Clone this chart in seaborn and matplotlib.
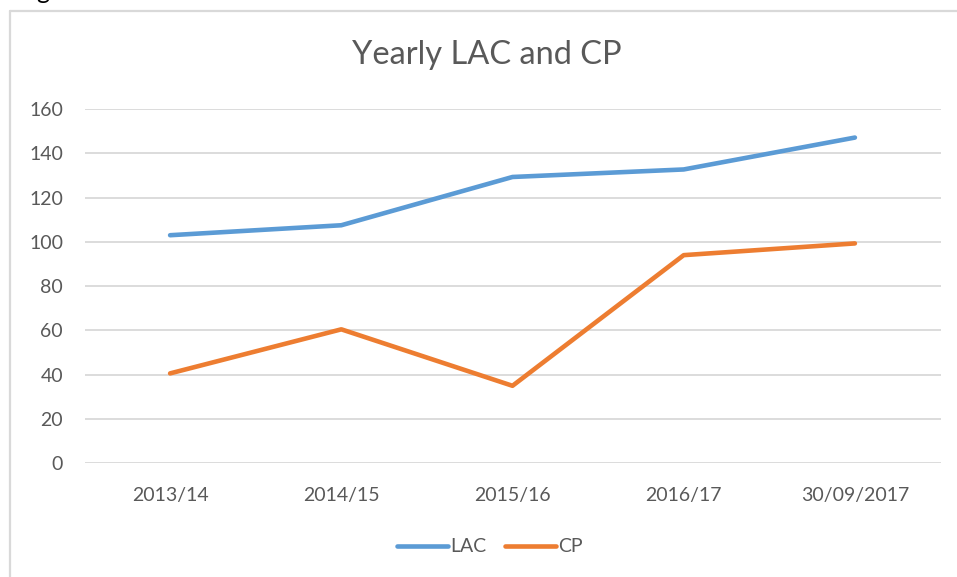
import matplotlib
matplotlib.use('Agg')
import matplotlib.pyplot as plt
from matplotlib.lines import Line2D
import pandas as pd
import seaborn as sns

# values
years = ['2013/14', '2014/15', '2015/16', '2016/17', '30/09/2017']
lac = [103, 107.5, 129.3, 132.7, 147.1]
cp = [40.6, 60.5, 35.0, 94.0, 99.3]
yticks = [0, 20, 40, 60, 80, 100, 120, 140, 160]

df = pd.DataFrame({
    'year': years * 2,
    'value': lac + cp,
    'series': ['LAC'] * len(years) + ['CP'] * len(years),
})

sns.set_style('white')
plt.rcParams['font.family'] = ['Lato', 'DejaVu Sans']
txt = '#595959'
grid = '#d9d9d9'

W, H = 957, 577
fig = plt.figure(figsize=(W / 100, H / 100), dpi=100)
ax = fig.add_axes([84.5 / W, 1 - 463.3 / H, 856 / W, 354.3 / H])

sns.lineplot(data=df, x='year', y='value', hue='series', sort=False,
             palette={'LAC': '#5b9bd5', 'CP': '#ed7d31'}, linewidth=3.3,
             ax=ax, legend=False)

ax.set_xlim(-0.5, len(years) - 0.5)
ax.set_ylim(0, 160)
ax.set_yticks(yticks)
ax.set_xlabel('')
ax.set_ylabel('')
ax.grid(axis='y', color=grid, linewidth=1.3)
ax.set_axisbelow(True)
for s in ax.spines.values():
    s.set_visible(False)
ax.tick_params(axis='both', length=0, labelsize=14, labelcolor=txt)
ax.tick_params(axis='y', pad=15.5)
ax.tick_params(axis='x', pad=17)

fig.text(486.5 / W, 1 - 55 / H, 'Yearly LAC and CP', ha='center', va='center',
         fontsize=23.5, color=txt)

handles = [Line2D([], [], color='#5b9bd5', lw=3.3),
           Line2D([], [], color='#ed7d31', lw=3.3)]
fig.legend(handles, ['LAC', 'CP'], loc='center', bbox_to_anchor=(490 / W, 1 - 547 / H),
           ncol=2, frameon=False, fontsize=14, labelcolor=txt, handlelength=2.6,
           handletextpad=0.1, columnspacing=1.0)

# chart border (left and top edges visible) and the cut-off letter above it
fig.add_artist(Line2D([10 / W, 10 / W], [0, 1 - 11 / H], color=grid, lw=1.6,
                      transform=fig.transFigure))
fig.add_artist(Line2D([10 / W, 1], [1 - 11 / H, 1 - 11 / H], color=grid, lw=1.6,
                      transform=fig.transFigure))
fig.text(36 / W, 1 + 1 / H, 'g', ha='left', va='baseline', fontsize=18, color='black')

fig.savefig('out.png', dpi=100, facecolor='white')
